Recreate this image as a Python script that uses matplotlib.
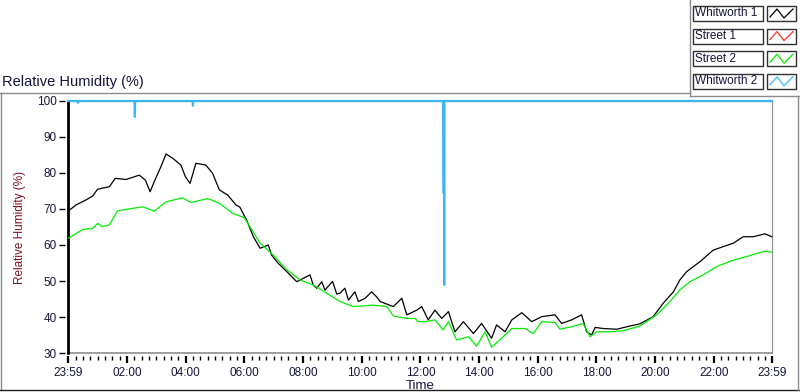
import matplotlib
matplotlib.use('Agg')
import matplotlib.pyplot as plt
from matplotlib.patches import Rectangle
from matplotlib.lines import Line2D

W, H = 800, 392

# time = hours after the 23:59 start, rh = relative humidity (%)
whit1_t = [0.02, 0.27, 0.61, 0.84, 1.01, 1.41, 1.61, 1.98, 2.43, 2.64, 2.80, 2.94,
           3.17, 3.34, 3.57, 3.85, 4.00, 4.16, 4.36, 4.70, 4.93, 5.16, 5.44, 5.73,
           5.86, 6.09, 6.32, 6.55, 6.83, 6.94, 7.17, 7.46, 7.80, 8.25, 8.36, 8.48,
           8.65, 8.76, 9.02, 9.16, 9.27, 9.44, 9.56, 9.78, 9.90, 10.13, 10.35, 10.52,
           10.64, 11.09, 11.38, 11.55, 11.89, 12.06, 12.28, 12.51,
           12.74, 12.97, 13.19, 13.48, 13.82, 14.10, 14.44, 14.61, 14.90, 15.13,
           15.47, 15.81, 16.15, 16.60, 16.83, 17.17, 17.51, 17.68, 17.85, 17.97,
           18.25, 18.71, 19.16, 19.50, 19.95, 20.29, 20.64, 20.86, 21.09, 21.55,
           22.00, 22.68, 23.02, 23.36, 23.76, 23.99]
whit1_rh = [69.5, 71.1, 72.5, 73.6, 75.5, 76.2, 78.5, 78.2, 79.4, 78.0, 74.8, 77.6,
            81.8, 85.3, 84.1, 82.2, 79.0, 77.1, 82.7, 82.2, 79.9, 75.3, 73.9, 71.1,
            70.5, 66.9, 62.3, 59.1, 60.0, 57.2, 54.9, 52.6, 49.8, 51.7, 48.9, 48.0,
            49.8, 47.5, 49.9, 46.4, 46.6, 48.0, 44.7, 47.0, 44.3, 45.2, 47.0, 45.6,
            44.3, 42.9, 45.2, 40.6, 41.9, 42.9, 39.2, 41.9,
            39.6, 41.5, 35.9, 38.7, 35.4, 38.2, 34.1, 37.8, 35.9, 39.2,
            41.2, 38.7, 40.1, 40.6, 38.2, 39.2, 40.6, 35.9, 35.0, 37.1,
            36.8, 36.6, 37.5, 38.1, 40.1, 43.8, 47.0, 50.3, 52.6, 55.4,
            58.6, 60.5, 62.3, 62.3, 63.1, 62.3]

street2_t = [0.02, 0.50, 0.84, 1.01, 1.16, 1.41, 1.69, 1.98, 2.55, 2.94, 3.34, 3.91,
             4.19, 4.76, 5.16, 5.61, 6.01, 6.20, 6.55, 7.00, 7.46, 7.91, 8.36, 8.82,
             9.27, 9.72, 10.41, 10.87, 11.09, 11.55, 11.83, 11.94, 12.17, 12.51,
             12.79, 12.97, 13.25, 13.65, 13.93, 14.22, 14.44, 14.78, 15.13, 15.58,
             15.86, 16.15, 16.60, 16.77, 17.17, 17.56, 17.80, 18.02, 18.48, 18.93,
             19.50, 20.07, 20.52, 20.86, 21.20, 21.66, 22.11, 22.68, 23.14, 23.76, 23.99]
street2_rh = [61.9, 64.3, 64.6, 66.0, 65.1, 65.6, 69.5, 69.9, 70.6, 69.4, 72.0, 73.1,
              71.8, 72.9, 71.6, 68.8, 67.6, 65.1, 60.5, 57.2, 53.1, 50.3, 48.9, 46.6,
              44.3, 42.9, 43.3, 42.9, 40.3, 39.6, 39.6, 38.7, 38.7, 39.2,
              36.4, 38.7, 33.6, 34.5, 31.9, 35.9, 31.6, 34.1, 36.8, 36.8,
              35.4, 38.7, 38.5, 36.6, 37.3, 38.2, 34.5, 35.9, 35.9, 36.2,
              37.5, 40.6, 44.3, 47.5, 49.8, 51.7, 54.0, 55.8, 56.8, 58.3, 58.0]

street1_t = []
street1_rh = []

whit2_t = [0.0, 0.33, 0.34, 0.35, 2.27, 2.28, 2.29, 4.25, 4.26, 4.27,
           12.80, 12.81, 12.815, 12.82, 12.825, 12.83, 24.0]
whit2_rh = [100, 100, 99.5, 100, 100, 95.6, 100, 100, 98.7, 100,
            100, 74.4, 100, 76.0, 48.9, 100, 100]

series_names = ['Whitworth 1', 'Street 1', 'Street 2', 'Whitworth 2']
series_colors = ['#000000', '#ff3030', '#00ee00', '#3cb6ee']

x_tick_labels = ['23:59', '02:00', '04:00', '06:00', '08:00', '10:00', '12:00',
                 '14:00', '16:00', '18:00', '20:00', '22:00', '23:59']
y_ticks = [30, 40, 50, 60, 70, 80, 90, 100]

plt.rcParams['font.family'] = ['Liberation Sans', 'DejaVu Sans']
txt_col = '#15153a'


def fx(x):
    return x / W


def fy(y):
    return 1 - y / H


fig = plt.figure(figsize=(W / 100, H / 100), dpi=100)
fig.patch.set_facecolor('white')

ax = fig.add_axes([fx(68), fy(353), 704 / W, 252 / H])
data = [(whit1_t, whit1_rh), (street1_t, street1_rh),
        (street2_t, street2_rh), (whit2_t, whit2_rh)]
for (t, rh), c in zip(data, series_colors):
    if len(t) == 0:
        continue
    lw = 1.6 if c == series_colors[3] else 0.9
    ax.plot(t, rh, color=c, lw=lw, clip_on=False, zorder=3)

ax.set_xlim(0, 24)
ax.set_ylim(30, 100)

# x ticks: clock times, the first sits at 23:59 (one minute before midnight)
major = [0.0] + [int(s[:2]) + 1 / 60 for s in x_tick_labels[1:-1]] + [24.0]
minor = [1 / 60 + k * 0.25 for k in range(1, 96) if k % 8 != 0]
ax.set_xticks(major)
ax.set_xticklabels(x_tick_labels)
ax.set_xticks(minor, minor=True)
ax.set_yticks(y_ticks)
ax.set_yticklabels([str(v) for v in y_ticks])

ax.tick_params(axis='x', which='major', direction='out', length=5, width=1.6,
               color='black', labelsize=8.5, labelcolor=txt_col, pad=3)
ax.tick_params(axis='x', which='minor', direction='out', length=3, width=1,
               color='black')
ax.tick_params(axis='y', which='major', direction='out', length=4, width=1,
               color='black', labelsize=8.5, labelcolor=txt_col, pad=2)

for s in ['left', 'bottom']:
    ax.spines[s].set_position(('outward', 2))
    ax.spines[s].set_visible(False)
ax.spines['right'].set_color('#8c8c8c')
ax.spines['top'].set_color('#404040')
ax.axhline(30, color='#8c8c8c', lw=1.2, clip_on=False, zorder=2)
ax.axvline(0, color='black', lw=2, clip_on=False, zorder=2)

ax.set_xlabel('Time', fontsize=9.5, color=txt_col, labelpad=1)
ax.set_ylabel('Relative Humidity (%)', fontsize=8.5, color='#7a1020', labelpad=8)

fig.text(fx(2), fy(82), 'Relative Humidity (%)', fontsize=10.5, color=txt_col,
         ha='left', va='center')

# panel frame
frame = [((0, 690), (93, 93), '#8c8c8c'), ((1, 1), (93, 390), '#8c8c8c'),
         ((0, 800), (390, 390), '#202020'), ((690, 690), (0, 96), '#8c8c8c'),
         ((690, 800), (96, 96), '#8c8c8c'), ((798, 798), (96, 390), '#8c8c8c')]
for xs, ys, c in frame:
    fig.add_artist(Line2D([fx(v) for v in xs], [fy(v) for v in ys], color=c, lw=1))

# legend
for i, (name, c) in enumerate(zip(series_names, series_colors)):
    top = 6 + i * 22.6
    fig.add_artist(Rectangle((fx(693), fy(top + 15)), 70 / W, 15 / H,
                             facecolor='white', edgecolor='#303030', lw=1))
    fig.text(fx(695), fy(top + 7.5), name, fontsize=8.5, color=txt_col,
             ha='left', va='center')
    fig.add_artist(Rectangle((fx(767), fy(top + 15)), 29 / W, 15 / H,
                             facecolor='white', edgecolor='#303030', lw=1))
    zx = [770, 777, 784, 793]
    zy = [top + 11, top + 3, top + 12, top + 3]
    fig.add_artist(Line2D([fx(v) for v in zx], [fy(v) for v in zy], color=c, lw=0.9))

fig.savefig('out.png', dpi=100)
